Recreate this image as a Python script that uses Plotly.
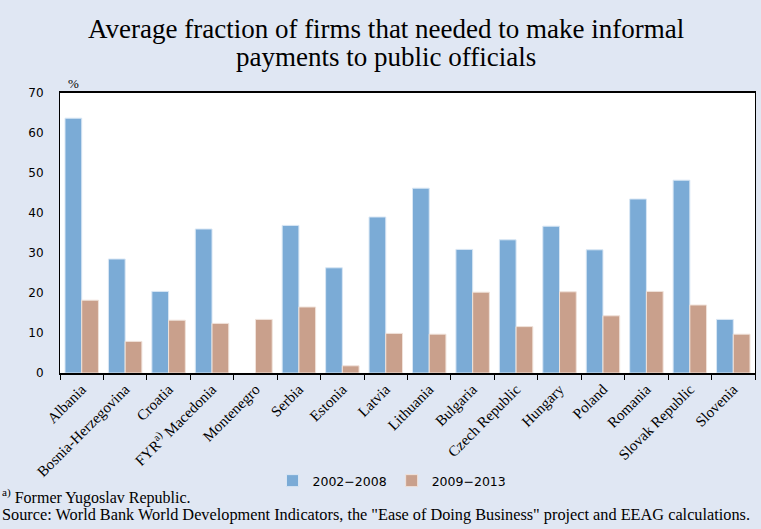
import plotly.graph_objects as go

countries = ["Albania", "Bosnia-Herzegovina", "Croatia", "FYR<sup>a)</sup> Macedonia", "Montenegro",
             "Serbia", "Estonia", "Latvia", "Lithuania", "Bulgaria", "Czech Republic", "Hungary",
             "Poland", "Romania", "Slovak Republic", "Slovenia"]
v2002_2008 = [63.7, 28.5, 20.4, 36.0, None, 36.9, 26.3, 39.0, 46.2, 30.9, 33.3, 36.7, 30.8, 43.5, 48.2, 13.4]
v2009_2013 = [18.2, 7.9, 13.2, 12.4, 13.4, 16.5, 1.8, 9.9, 9.7, 20.2, 11.6, 20.3, 14.3, 20.4, 17.0, 9.7]
series_names = ["2002−2008", "2009−2013"]
yticks = [0, 10, 20, 30, 40, 50, 60, 70]

title_lines = ["Average fraction of firms that needed to make informal", "payments to public officials"]
footnote = "<sup>a)</sup> Former Yugoslav Republic."
source = "Source: World Bank World Development Indicators, the \"Ease of Doing Business\" project and EEAG calculations."

bg = "#E0E7F3"
W, H = 761, 529
ML, MR, MT, MB = 60, 6, 93, 156
PH = H - MT - MB
PW = W - ML - MR


def py(p):
    return (H - MB - p) / PH


def px(p):
    return (p - ML) / PW


fig = go.Figure()
fig.add_bar(x=countries, y=v2002_2008, name=series_names[0], marker_color="#7BABD6",
            marker_line=dict(color="#D8E6F4", width=1))
fig.add_bar(x=countries, y=v2009_2013, name=series_names[1], marker_color="#C9A08C",
            marker_line=dict(color="#F0E2DA", width=1))

fig.update_layout(
    width=W, height=H,
    paper_bgcolor=bg, plot_bgcolor="white",
    margin=dict(l=ML, r=MR, t=MT, b=MB),
    barmode="group", bargap=0.23, bargroupgap=0,
    showlegend=True,
    legend=dict(orientation="h", x=px(392), xanchor="center", y=py(481), yanchor="middle",
                bgcolor="rgba(0,0,0,0)", font=dict(family="DejaVu Sans", size=12.5, color="black"),
                itemwidth=30, traceorder="normal"),
    xaxis=dict(tickangle=-45, tickfont=dict(family="Liberation Serif", size=15, color="black"),
               ticks="outside", tickson="boundaries", ticklen=5, tickcolor="black",
               showline=True, linecolor="black", linewidth=1.5, mirror=True,
               showgrid=False),
    yaxis=dict(range=[0, 70], tickvals=yticks, ticks="", showgrid=False, zeroline=False,
               tickfont=dict(family="DejaVu Sans", size=12, color="black"),
               showline=True, linecolor="black", linewidth=1, mirror=True, ticklabelstandoff=13),
)

for txt, ypix in zip(title_lines, [29, 57]):
    fig.add_annotation(text=txt, xref="paper", yref="paper", x=px(386), xanchor="center",
                       y=py(ypix), yanchor="middle", showarrow=False,
                       font=dict(family="Liberation Serif", size=27, color="black"))

fig.add_annotation(text="%", xref="paper", yref="paper", x=px(73), xanchor="center", y=py(84),
                   yanchor="middle", showarrow=False,
                   font=dict(family="Liberation Serif", size=13, color="black"))
fig.add_annotation(text=footnote, xref="paper", yref="paper",
                   x=px(0), xanchor="left", y=py(496), yanchor="middle", showarrow=False,
                   font=dict(family="Liberation Serif", size=16, color="black"))
fig.add_annotation(text=source, xref="paper", yref="paper",
                   x=px(0), xanchor="left", y=py(514), yanchor="middle", showarrow=False,
                   font=dict(family="Liberation Serif", size=16.3, color="black"))

fig.write_html("out.html", config={"displayModeBar": False},
               post_script="document.body.style.margin='0px';")
